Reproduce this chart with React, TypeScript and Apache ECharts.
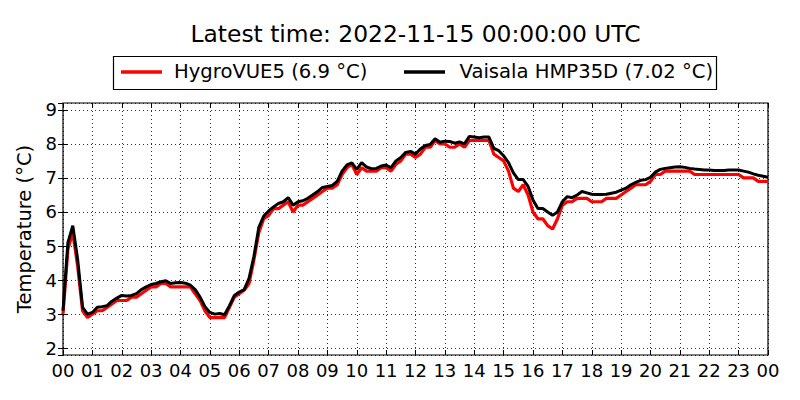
import React, { useEffect, useRef } from "react";
import * as echarts from "echarts";

const titleText = "Latest time: 2022-11-15 00:00:00 UTC";
const seriesNames = ["HygroVUE5 (6.9 °C)", "Vaisala HMP35D (7.02 °C)"];
const xTickLabels = [
  "00", "01", "02", "03", "04", "05", "06", "07", "08", "09", "10", "11",
  "12", "13", "14", "15", "16", "17", "18", "19", "20", "21", "22", "23", "00",
];
// sample times: every 10 minutes, in hours after midnight
const sampleHours = Array.from({ length: 145 }, (_, i) => i / 6);

// HygroVUE5 (red)
const hygroVUE5 = [
  3.0, 4.9, 5.4, 4.4, 3.1, 2.9, 3.0, 3.1, 3.1, 3.2, 3.3, 3.4,
  3.4, 3.4, 3.5, 3.5, 3.6, 3.7, 3.8, 3.8, 3.9, 3.9, 3.8, 3.8,
  3.8, 3.8, 3.8, 3.6, 3.4, 3.1, 2.9, 2.9, 2.9, 2.9, 3.2, 3.5,
  3.6, 3.7, 3.9, 4.6, 5.4, 5.8, 5.9, 6.1, 6.1, 6.2, 6.3, 6.0,
  6.2, 6.2, 6.3, 6.4, 6.5, 6.6, 6.7, 6.7, 6.8, 7.1, 7.3, 7.4,
  7.1, 7.3, 7.2, 7.2, 7.2, 7.3, 7.3, 7.2, 7.4, 7.5, 7.7, 7.7,
  7.6, 7.7, 7.9, 7.9, 8.1, 8.0, 8.0, 7.9, 7.9, 8.0, 7.9, 8.1,
  8.1, 8.1, 8.1, 8.1, 7.7, 7.6, 7.5, 7.2, 6.7, 6.6, 6.8, 6.5,
  6.0, 5.8, 5.8, 5.6, 5.5, 5.8, 6.2, 6.3, 6.3, 6.4, 6.4, 6.4,
  6.3, 6.3, 6.3, 6.4, 6.4, 6.4, 6.5, 6.6, 6.7, 6.8, 6.8, 6.8,
  6.9, 7.1, 7.1, 7.2, 7.2, 7.2, 7.2, 7.2, 7.2, 7.1, 7.1, 7.1,
  7.1, 7.1, 7.1, 7.1, 7.1, 7.1, 7.1, 7.0, 7.0, 7.0, 6.9, 6.9,
  6.9,
];

// Vaisala HMP35D (black)
const vaisalaHMP35D = [
  3.1, 5.1, 5.6, 4.6, 3.2, 3.0, 3.05, 3.2, 3.22, 3.25, 3.38, 3.47,
  3.55, 3.53, 3.55, 3.6, 3.72, 3.8, 3.87, 3.9, 3.95, 3.98, 3.9, 3.92,
  3.93, 3.91, 3.85, 3.72, 3.5, 3.22, 3.05, 3.0, 3.02, 2.98, 3.25, 3.55,
  3.65, 3.72, 4.05, 4.7, 5.55, 5.88, 6.03, 6.15, 6.25, 6.3, 6.42, 6.2,
  6.3, 6.33, 6.4, 6.5, 6.6, 6.72, 6.75, 6.78, 6.9, 7.2, 7.38, 7.44,
  7.25, 7.45, 7.32, 7.27, 7.28, 7.35, 7.38, 7.3, 7.5, 7.6, 7.75, 7.78,
  7.7, 7.85, 7.95, 7.98, 8.15, 8.05, 8.08, 8.07, 8.02, 8.06, 8.0, 8.22,
  8.2, 8.18, 8.2, 8.2, 7.87, 7.8, 7.65, 7.45, 7.15, 6.95, 6.95, 6.75,
  6.35, 6.1, 6.1, 6.0, 5.9, 6.0, 6.3, 6.45, 6.42, 6.5, 6.6, 6.56,
  6.52, 6.51, 6.51, 6.52, 6.55, 6.58, 6.64, 6.7, 6.8, 6.87, 6.93, 6.95,
  7.02, 7.17, 7.25, 7.28, 7.3, 7.32, 7.33, 7.31, 7.28, 7.26, 7.25, 7.23,
  7.23, 7.22, 7.22, 7.22, 7.23, 7.23, 7.23, 7.2, 7.17, 7.12, 7.08, 7.05,
  7.02,
];

const FONT = '"DejaVu Sans", sans-serif';

export default function App() {
  const ref = useRef<HTMLDivElement>(null);

  useEffect(() => {
    if (!ref.current) return;
    const chart = echarts.init(ref.current, null, { renderer: "svg" });

    const pairs = (vals: number[]) => vals.map((v, i) => [sampleHours[i], v]);

    const intLabel = (v: number) =>
      Math.abs(v - Math.round(v)) < 1e-6 ? String(Math.round(v)) : "";

    const gridLine = {
      show: true,
      lineStyle: { color: "#000", width: 1, type: [1, 3] as any, opacity: 0.8 },
    };

    chart.setOption({
      animation: false,
      backgroundColor: "#fff",
      textStyle: { fontFamily: FONT },
      grid: {
        left: 63,
        right: 32,
        top: 103,
        bottom: 45,
        show: true,
        borderColor: "#000",
        borderWidth: 1.2,
        backgroundColor: "transparent",
      },
      xAxis: [
        {
          type: "value",
          min: 0,
          max: 24,
          interval: 1,
          position: "bottom",
          axisLine: { show: false },
          axisTick: { show: true, inside: true, length: 5, lineStyle: { color: "#000" } },
          axisLabel: {
            show: true,
            color: "#000",
            fontSize: 18,
            fontFamily: FONT,
            margin: 6,
            showMinLabel: true,
            showMaxLabel: true,
            formatter: (v: number) => xTickLabels[Math.round(v)] ?? "",
          },
          splitLine: gridLine,
        },
        {
          type: "value",
          min: 0,
          max: 24,
          interval: 1,
          position: "top",
          axisLine: { show: false },
          axisTick: { show: true, inside: true, length: 5, lineStyle: { color: "#000" } },
          axisLabel: { show: false },
          splitLine: { show: false },
        },
      ],
      yAxis: [
        {
          type: "value",
          min: 1.8,
          max: 9.2,
          splitNumber: 7,
          position: "left",
          name: "Temperature (°C)",
          nameLocation: "middle",
          nameGap: 22,
          nameTextStyle: { color: "#000", fontSize: 19.5, fontFamily: FONT },
          axisLine: { show: false },
          axisTick: { show: true, inside: true, length: 5, lineStyle: { color: "#000" } },
          axisLabel: {
            show: true,
            color: "#000",
            fontSize: 18,
            fontFamily: FONT,
            margin: 6,
            showMinLabel: false,
            showMaxLabel: false,
            formatter: intLabel,
          },
          splitLine: gridLine,
        },
        {
          type: "value",
          min: 1.8,
          max: 9.2,
          splitNumber: 7,
          position: "right",
          axisLine: { show: false },
          axisTick: { show: true, inside: true, length: 5, lineStyle: { color: "#000" } },
          axisLabel: { show: false },
          splitLine: { show: false },
        },
      ],
      series: [
        {
          name: seriesNames[0],
          type: "line",
          xAxisIndex: 0,
          yAxisIndex: 0,
          data: pairs(hygroVUE5),
          showSymbol: false,
          symbol: "none",
          lineStyle: { color: "#ff0000", width: 3.2 },
          z: 2,
        },
        {
          name: seriesNames[1],
          type: "line",
          xAxisIndex: 0,
          yAxisIndex: 0,
          data: pairs(vaisalaHMP35D),
          showSymbol: false,
          symbol: "none",
          lineStyle: { color: "#000000", width: 3 },
          z: 3,
        },
      ],
      graphic: [
        {
          type: "text",
          x: 415.5,
          y: 33.5,
          style: {
            text: titleText,
            font: `23.4px ${FONT}`,
            fill: "#000",
            align: "center",
            verticalAlign: "middle",
          },
        },
        {
          type: "rect",
          shape: { x: 113.5, y: 56.5, width: 603, height: 33 },
          style: { fill: "#fff", stroke: "#000", lineWidth: 1.2 },
        },
        {
          type: "line",
          shape: { x1: 121, y1: 72, x2: 162, y2: 72 },
          style: { stroke: "#ff0000", lineWidth: 3.5 },
        },
        {
          type: "text",
          x: 174,
          y: 71.5,
          style: {
            text: seriesNames[0],
            font: `19.6px ${FONT}`,
            fill: "#000",
            align: "left",
            verticalAlign: "middle",
          },
        },
        {
          type: "line",
          shape: { x1: 404, y1: 72, x2: 445, y2: 72 },
          style: { stroke: "#000", lineWidth: 3.5 },
        },
        {
          type: "text",
          x: 459.5,
          y: 71.5,
          style: {
            text: seriesNames[1],
            font: `19.6px ${FONT}`,
            fill: "#000",
            align: "left",
            verticalAlign: "middle",
          },
        },
      ],
    });

    return () => chart.dispose();
  }, []);

  return (
    <div
      ref={ref}
      style={{ position: "fixed", left: 0, top: 0, width: 800, height: 400, background: "#fff" }}
    />
  );
}
